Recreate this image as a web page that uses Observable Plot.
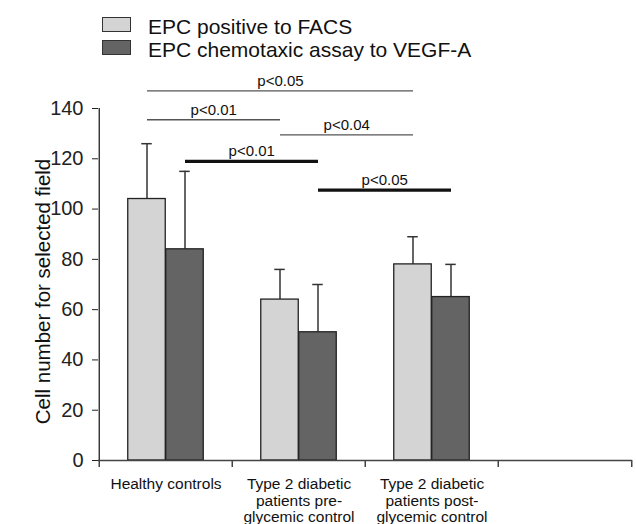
<!DOCTYPE html>
<html><head><meta charset="utf-8">
<script src="https://cdn.jsdelivr.net/npm/d3@7"></script>
<script src="https://cdn.jsdelivr.net/npm/@observablehq/plot@0.6"></script>
<style>
body{margin:0;background:#fff;font-family:"Liberation Sans",Arial,sans-serif;}
#wrap{width:636px;}
#legend{position:relative;height:62px;}
.sw{position:absolute;left:102px;width:27px;height:13px;border:1px solid #333;}
.lt{position:absolute;left:148px;font-size:21px;line-height:20px;color:#111;white-space:nowrap;}
</style></head><body>
<div id="wrap"><div id="legend"></div><div id="chart"></div></div>
<script>
// ---- data ----
const groups = [
  "Healthy controls",
  "Type 2 diabetic\npatients pre-\nglycemic control",
  "Type 2 diabetic\npatients post-\nglycemic control",
  ""
];
const series = ["EPC positive to FACS", "EPC chemotaxic assay to VEGF-A"];
const seriesColors = ["#d4d4d4", "#646464"];
const facsMean = [104, 64, 78];
const facsSd = [22, 12, 11];
const vegfMean = [84, 51, 65];
const vegfSd = [31, 19, 13];
const yTicks = [0, 20, 40, 60, 80, 100, 120, 140];
const yLabel = "Cell number for selected field";
// significance annotations
const sigFrom = [0, 0, 1, 0, 1];
const sigTo = [2, 1, 2, 1, 2];
const sigSeries = [0, 0, 0, 1, 1];
const sigLevel = [147, 135.5, 129.5, 119, 107.5];
const sigText = ["p<0.05", "p<0.01", "p<0.04", "p<0.01", "p<0.05"];

// ---- legend ----
const legend = document.getElementById("legend");
series.forEach((s, i) => {
  const sw = document.createElement("div");
  sw.className = "sw";
  sw.style.top = (17 + i * 23) + "px";
  sw.style.background = seriesColors[i];
  legend.appendChild(sw);
  const t = document.createElement("div");
  t.className = "lt";
  t.style.top = (17 + i * 23) + "px";
  t.textContent = s;
  legend.appendChild(t);
});

// ---- chart ----
const W = 636, H = 462, ML = 98, MR = 4, MT = 46, MB = 64;
const step = (W - ML - MR) / groups.length;
const half = 19;
const rows = facsMean.map((v, i) => ({
  g: groups[i], facs: v, facsSd: facsSd[i], vegf: vegfMean[i], vegfSd: vegfSd[i]
}));
const sigs = sigFrom.map((f, i) => ({
  from: f, to: sigTo[i], s: sigSeries[i], level: sigLevel[i], text: sigText[i]
}));
const off = [-half, half];
const errStyle = {stroke: "#333", strokeWidth: 1.5};
const capInset = step / 2 - 5.5;

const marks = [
  // error bars
  Plot.ruleX(rows, {x: "g", y1: "facs", y2: d => d.facs + d.facsSd, dx: off[0], ...errStyle}),
  Plot.tickY(rows, {x: "g", y: d => d.facs + d.facsSd, dx: off[0], insetLeft: capInset, insetRight: capInset, ...errStyle}),
  Plot.ruleX(rows, {x: "g", y1: "vegf", y2: d => d.vegf + d.vegfSd, dx: off[1], ...errStyle}),
  Plot.tickY(rows, {x: "g", y: d => d.vegf + d.vegfSd, dx: off[1], insetLeft: capInset, insetRight: capInset, ...errStyle}),
  // bars
  Plot.barY(rows, {x: "g", y: "facs", fill: seriesColors[0], stroke: "#222", strokeWidth: 1.3,
    insetLeft: step / 2 - 2 * half, insetRight: step / 2}),
  Plot.barY(rows, {x: "g", y: "vegf", fill: seriesColors[1], stroke: "#222", strokeWidth: 1.3,
    insetLeft: step / 2, insetRight: step / 2 - 2 * half}),
  // x axis line and boundary ticks
  Plot.ruleY([0], {stroke: "#444", strokeWidth: 1.5}),
  Plot.ruleX([groups[0]], {x: d => d, y1: 0, y2: 140, dx: -step / 2, stroke: "#222", strokeWidth: 1.3}),
  Plot.ruleX(groups, {x: d => d, y1: 0, y2: 0, dx: -step / 2, insetBottom: -7, stroke: "#444", strokeWidth: 1.5}),
  Plot.ruleX([groups[groups.length - 1]], {x: d => d, y1: 0, y2: 0, dx: step / 2, insetBottom: -7, stroke: "#444", strokeWidth: 1.5}),
  // x labels
  Plot.text(groups, {x: d => d, y: 0, text: d => d, dy: 17, lineAnchor: "top", lineHeight: 1.06,
    fontSize: 15.5, fill: "#111"}),
  // y axis
  Plot.axisY({ticks: yTicks, tickSize: 6, tickPadding: 9, fontSize: 20, label: null}),
  Plot.text([yLabel], {text: d => d, frameAnchor: "left", textAnchor: "middle", rotate: -90,
    dx: -55, dy: 7, fontSize: 20.5, fill: "#111"}),
  // significance lines
  Plot.link(sigs.filter(d => d.s === 0), {x1: d => groups[d.from], x2: d => groups[d.to], y1: "level", y2: "level",
    dx: off[0], stroke: "#555", strokeWidth: 1.4}),
  Plot.link(sigs.filter(d => d.s === 1), {x1: d => groups[d.from], x2: d => groups[d.to], y1: "level", y2: "level",
    dx: off[1], stroke: "#111", strokeWidth: 3.2}),
  ...sigs.map(d => Plot.text([d], {x: e => groups[e.from], y: "level", text: "text",
    dx: (d.to - d.from) * step / 2 + off[d.s], dy: -5, lineAnchor: "bottom", fontSize: 15, fill: "#111"}))
];

const chart = Plot.plot({
  width: W, height: H,
  marginLeft: ML, marginRight: MR, marginTop: MT, marginBottom: MB,
  x: {type: "band", domain: groups, padding: 0, axis: null},
  y: {domain: [0, 140]},
  style: {fontFamily: "Liberation Sans, Arial, sans-serif", color: "#222", background: "#fff", overflow: "visible"},
  marks
});
document.getElementById("chart").appendChild(chart);
</script>
</body></html>
